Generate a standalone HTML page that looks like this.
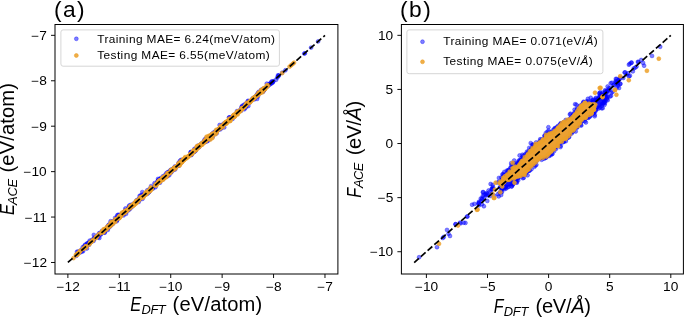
<!DOCTYPE html>
<html><head><meta charset="utf-8"><style>
html,body{margin:0;padding:0;background:#fff;}
svg{display:block;will-change:transform;}
</style></head><body>
<svg width="685" height="317" viewBox="0 0 685 317" xmlns="http://www.w3.org/2000/svg" font-family="Liberation Sans, sans-serif">
<rect width="685" height="317" fill="#fff"/>
<g clip-path="url(#clipA)">
<g fill="#0000ff" fill-opacity="0.5" stroke="#0000ff" stroke-opacity="0.5" stroke-width="0.7"><circle cx="119.6" cy="215.1" r="1.95"/><circle cx="136.8" cy="200.8" r="1.95"/><circle cx="229.1" cy="117.7" r="1.95"/><circle cx="205.8" cy="141.5" r="1.95"/><circle cx="151.1" cy="186.1" r="1.95"/><circle cx="139.9" cy="199.7" r="1.95"/><circle cx="190.9" cy="152.0" r="1.95"/><circle cx="111.9" cy="224.6" r="1.95"/><circle cx="205.2" cy="140.5" r="1.95"/><circle cx="256.8" cy="95.2" r="1.95"/><circle cx="123.7" cy="212.2" r="1.95"/><circle cx="258.2" cy="93.1" r="1.95"/><circle cx="204.1" cy="142.1" r="1.95"/><circle cx="94.4" cy="238.9" r="1.95"/><circle cx="160.8" cy="179.8" r="1.95"/><circle cx="246.2" cy="106.4" r="1.95"/><circle cx="209.9" cy="137.7" r="1.95"/><circle cx="138.7" cy="201.9" r="1.95"/><circle cx="216.9" cy="130.5" r="1.95"/><circle cx="118.3" cy="214.7" r="1.95"/><circle cx="91.7" cy="240.2" r="1.95"/><circle cx="106.7" cy="229.1" r="1.95"/><circle cx="141.3" cy="198.3" r="1.95"/><circle cx="165.3" cy="174.8" r="1.95"/><circle cx="127.2" cy="210.5" r="1.95"/><circle cx="232.6" cy="118.9" r="1.95"/><circle cx="113.1" cy="223.6" r="1.95"/><circle cx="100.9" cy="234.5" r="1.95"/><circle cx="93.6" cy="240.9" r="1.95"/><circle cx="190.9" cy="152.6" r="1.95"/><circle cx="240.1" cy="110.0" r="1.95"/><circle cx="191.5" cy="155.0" r="1.95"/><circle cx="254.9" cy="97.7" r="1.95"/><circle cx="215.2" cy="133.6" r="1.95"/><circle cx="241.2" cy="110.7" r="1.95"/><circle cx="254.4" cy="99.4" r="1.95"/><circle cx="180.9" cy="160.0" r="1.95"/><circle cx="256.0" cy="96.4" r="1.95"/><circle cx="171.0" cy="170.3" r="1.95"/><circle cx="128.6" cy="207.4" r="1.95"/><circle cx="162.7" cy="178.9" r="1.95"/><circle cx="203.7" cy="141.5" r="1.95"/><circle cx="139.5" cy="198.2" r="1.95"/><circle cx="249.5" cy="101.5" r="1.95"/><circle cx="125.4" cy="208.5" r="1.95"/><circle cx="141.2" cy="197.0" r="1.95"/><circle cx="125.7" cy="211.4" r="1.95"/><circle cx="144.2" cy="193.9" r="1.95"/><circle cx="77.0" cy="251.8" r="1.95"/><circle cx="196.7" cy="147.1" r="1.95"/><circle cx="130.2" cy="207.8" r="1.95"/><circle cx="89.1" cy="244.7" r="1.95"/><circle cx="194.4" cy="151.7" r="1.95"/><circle cx="109.9" cy="226.0" r="1.95"/><circle cx="134.4" cy="202.9" r="1.95"/><circle cx="160.7" cy="179.1" r="1.95"/><circle cx="104.8" cy="232.7" r="1.95"/><circle cx="117.8" cy="218.1" r="1.95"/><circle cx="167.1" cy="176.1" r="1.95"/><circle cx="167.5" cy="173.3" r="1.95"/><circle cx="125.0" cy="210.5" r="1.95"/><circle cx="133.1" cy="205.6" r="1.95"/><circle cx="129.6" cy="208.3" r="1.95"/><circle cx="126.0" cy="212.1" r="1.95"/><circle cx="168.7" cy="172.6" r="1.95"/><circle cx="116.7" cy="221.3" r="1.95"/><circle cx="171.2" cy="172.5" r="1.95"/><circle cx="123.3" cy="214.2" r="1.95"/><circle cx="237.0" cy="111.1" r="1.95"/><circle cx="110.6" cy="221.2" r="1.95"/><circle cx="241.5" cy="108.8" r="1.95"/><circle cx="110.2" cy="226.5" r="1.95"/><circle cx="220.1" cy="127.6" r="1.95"/><circle cx="193.3" cy="152.6" r="1.95"/><circle cx="116.2" cy="218.9" r="1.95"/><circle cx="221.9" cy="127.7" r="1.95"/><circle cx="123.9" cy="213.3" r="1.95"/><circle cx="92.4" cy="240.5" r="1.95"/><circle cx="194.7" cy="149.5" r="1.95"/><circle cx="179.1" cy="164.1" r="1.95"/><circle cx="197.8" cy="145.7" r="1.95"/><circle cx="109.5" cy="225.3" r="1.95"/><circle cx="123.6" cy="215.4" r="1.95"/><circle cx="207.5" cy="137.6" r="1.95"/><circle cx="91.5" cy="241.7" r="1.95"/><circle cx="244.0" cy="107.5" r="1.95"/><circle cx="158.3" cy="180.3" r="1.95"/><circle cx="194.7" cy="151.5" r="1.95"/><circle cx="136.1" cy="201.8" r="1.95"/><circle cx="110.4" cy="225.7" r="1.95"/><circle cx="77.9" cy="251.6" r="1.95"/><circle cx="116.3" cy="219.9" r="1.95"/><circle cx="243.0" cy="107.1" r="1.95"/><circle cx="262.8" cy="91.9" r="1.95"/><circle cx="160.8" cy="178.1" r="1.95"/><circle cx="148.7" cy="192.3" r="1.95"/><circle cx="129.0" cy="207.0" r="1.95"/><circle cx="261.5" cy="89.6" r="1.95"/><circle cx="87.2" cy="243.5" r="1.95"/><circle cx="154.5" cy="183.2" r="1.95"/><circle cx="108.4" cy="228.0" r="1.95"/><circle cx="122.1" cy="213.8" r="1.95"/><circle cx="225.8" cy="122.5" r="1.95"/><circle cx="115.1" cy="219.9" r="1.95"/><circle cx="182.0" cy="159.9" r="1.95"/><circle cx="146.5" cy="192.6" r="1.95"/><circle cx="173.4" cy="170.1" r="1.95"/><circle cx="140.0" cy="198.6" r="1.95"/><circle cx="130.3" cy="205.0" r="1.95"/><circle cx="130.1" cy="208.8" r="1.95"/><circle cx="92.4" cy="240.5" r="1.95"/><circle cx="168.5" cy="174.6" r="1.95"/><circle cx="245.6" cy="103.7" r="1.95"/><circle cx="257.9" cy="96.6" r="1.95"/><circle cx="81.3" cy="250.9" r="1.95"/><circle cx="252.2" cy="99.5" r="1.95"/><circle cx="99.3" cy="234.3" r="1.95"/><circle cx="219.6" cy="125.0" r="1.95"/><circle cx="248.1" cy="100.8" r="1.95"/><circle cx="108.2" cy="228.0" r="1.95"/><circle cx="139.6" cy="195.9" r="1.95"/><circle cx="148.6" cy="192.5" r="1.95"/><circle cx="142.6" cy="198.8" r="1.95"/><circle cx="175.1" cy="169.5" r="1.95"/><circle cx="77.7" cy="253.2" r="1.95"/><circle cx="157.2" cy="182.6" r="1.95"/><circle cx="244.5" cy="109.2" r="1.95"/><circle cx="92.8" cy="239.6" r="1.95"/><circle cx="168.9" cy="173.3" r="1.95"/><circle cx="168.4" cy="172.4" r="1.95"/><circle cx="226.3" cy="122.8" r="1.95"/><circle cx="261.2" cy="90.2" r="1.95"/><circle cx="211.8" cy="134.3" r="1.95"/><circle cx="128.6" cy="210.2" r="1.95"/><circle cx="204.7" cy="139.4" r="1.95"/><circle cx="142.7" cy="195.8" r="1.95"/><circle cx="223.5" cy="123.7" r="1.95"/><circle cx="205.7" cy="138.7" r="1.95"/><circle cx="263.7" cy="90.5" r="1.95"/><circle cx="242.4" cy="108.1" r="1.95"/><circle cx="84.9" cy="248.3" r="1.95"/><circle cx="131.7" cy="207.1" r="1.95"/><circle cx="241.6" cy="108.4" r="1.95"/><circle cx="191.4" cy="152.7" r="1.95"/><circle cx="142.1" cy="194.8" r="1.95"/><circle cx="86.7" cy="243.7" r="1.95"/><circle cx="222.5" cy="125.7" r="1.95"/><circle cx="76.3" cy="255.9" r="1.95"/><circle cx="93.8" cy="234.9" r="1.95"/><circle cx="266.8" cy="83.6" r="1.95"/><circle cx="225.0" cy="123.6" r="1.95"/><circle cx="242.7" cy="109.0" r="1.95"/><circle cx="167.6" cy="174.7" r="1.95"/><circle cx="108.4" cy="226.0" r="1.95"/><circle cx="178.5" cy="162.9" r="1.95"/><circle cx="157.8" cy="181.5" r="1.95"/><circle cx="107.3" cy="226.8" r="1.95"/><circle cx="107.8" cy="227.2" r="1.95"/><circle cx="125.6" cy="211.0" r="1.95"/><circle cx="257.1" cy="95.5" r="1.95"/><circle cx="265.5" cy="87.6" r="1.95"/><circle cx="211.1" cy="135.8" r="1.95"/><circle cx="214.8" cy="131.7" r="1.95"/><circle cx="216.6" cy="133.4" r="1.95"/><circle cx="175.3" cy="167.7" r="1.95"/><circle cx="110.1" cy="225.3" r="1.95"/><circle cx="244.5" cy="107.7" r="1.95"/><circle cx="245.0" cy="105.9" r="1.95"/><circle cx="212.2" cy="136.1" r="1.95"/><circle cx="255.2" cy="97.6" r="1.95"/><circle cx="264.2" cy="89.2" r="1.95"/><circle cx="172.7" cy="170.0" r="1.95"/><circle cx="221.5" cy="127.3" r="1.95"/><circle cx="194.4" cy="148.9" r="1.95"/><circle cx="98.1" cy="235.3" r="1.95"/><circle cx="136.7" cy="201.0" r="1.95"/><circle cx="89.0" cy="243.2" r="1.95"/><circle cx="246.3" cy="105.5" r="1.95"/><circle cx="80.2" cy="252.5" r="1.95"/><circle cx="179.2" cy="162.8" r="1.95"/><circle cx="110.1" cy="225.4" r="1.95"/><circle cx="104.2" cy="232.5" r="1.95"/><circle cx="107.8" cy="229.9" r="1.95"/><circle cx="244.4" cy="106.0" r="1.95"/><circle cx="170.9" cy="172.2" r="1.95"/><circle cx="141.5" cy="197.3" r="1.95"/><circle cx="267.8" cy="86.3" r="1.95"/><circle cx="180.8" cy="163.0" r="1.95"/><circle cx="134.2" cy="203.8" r="1.95"/><circle cx="147.2" cy="193.9" r="1.95"/><circle cx="209.6" cy="137.0" r="1.95"/><circle cx="99.1" cy="233.3" r="1.95"/><circle cx="221.6" cy="125.5" r="1.95"/><circle cx="245.7" cy="107.5" r="1.95"/><circle cx="167.2" cy="176.3" r="1.95"/><circle cx="160.0" cy="182.7" r="1.95"/><circle cx="103.5" cy="231.1" r="1.95"/><circle cx="157.2" cy="182.2" r="1.95"/><circle cx="222.8" cy="124.9" r="1.95"/><circle cx="155.5" cy="187.2" r="1.95"/><circle cx="195.0" cy="149.8" r="1.95"/><circle cx="84.4" cy="246.5" r="1.95"/><circle cx="118.2" cy="218.4" r="1.95"/><circle cx="115.1" cy="217.9" r="1.95"/><circle cx="264.4" cy="89.5" r="1.95"/><circle cx="84.6" cy="245.9" r="1.95"/><circle cx="117.3" cy="215.3" r="1.95"/><circle cx="82.0" cy="251.5" r="1.95"/><circle cx="198.8" cy="147.0" r="1.95"/><circle cx="201.4" cy="143.5" r="1.95"/><circle cx="142.3" cy="192.1" r="1.95"/><circle cx="83.0" cy="251.3" r="1.95"/><circle cx="159.5" cy="180.5" r="1.95"/><circle cx="108.9" cy="225.6" r="1.95"/><circle cx="157.9" cy="183.2" r="1.95"/><circle cx="147.6" cy="192.9" r="1.95"/><circle cx="118.4" cy="218.3" r="1.95"/><circle cx="237.6" cy="112.7" r="1.95"/><circle cx="209.0" cy="139.3" r="1.95"/><circle cx="166.4" cy="173.1" r="1.95"/><circle cx="152.7" cy="188.8" r="1.95"/><circle cx="96.9" cy="237.1" r="1.95"/><circle cx="191.8" cy="153.6" r="1.95"/><circle cx="172.8" cy="170.1" r="1.95"/><circle cx="249.8" cy="101.3" r="1.95"/><circle cx="262.0" cy="91.7" r="1.95"/><circle cx="231.4" cy="118.0" r="1.95"/><circle cx="242.4" cy="105.7" r="1.95"/><circle cx="171.2" cy="169.5" r="1.95"/><circle cx="147.8" cy="192.0" r="1.95"/><circle cx="168.0" cy="172.6" r="1.95"/><circle cx="178.0" cy="166.0" r="1.95"/><circle cx="233.0" cy="116.0" r="1.95"/><circle cx="105.0" cy="231.4" r="1.95"/><circle cx="191.3" cy="154.7" r="1.95"/><circle cx="250.0" cy="102.5" r="1.95"/><circle cx="118.7" cy="215.6" r="1.95"/><circle cx="131.3" cy="205.9" r="1.95"/><circle cx="237.7" cy="111.4" r="1.95"/><circle cx="201.2" cy="144.3" r="1.95"/><circle cx="261.4" cy="90.8" r="1.95"/><circle cx="199.3" cy="145.6" r="1.95"/><circle cx="258.3" cy="93.0" r="1.95"/><circle cx="234.8" cy="114.6" r="1.95"/><circle cx="205.5" cy="141.8" r="1.95"/><circle cx="112.5" cy="223.9" r="1.95"/><circle cx="117.0" cy="217.2" r="1.95"/><circle cx="241.7" cy="106.7" r="1.95"/><circle cx="140.1" cy="197.6" r="1.95"/><circle cx="207.8" cy="140.8" r="1.95"/><circle cx="159.6" cy="179.0" r="1.95"/><circle cx="164.2" cy="176.7" r="1.95"/><circle cx="78.0" cy="253.4" r="1.95"/><circle cx="233.9" cy="115.5" r="1.95"/><circle cx="135.8" cy="202.7" r="1.95"/><circle cx="140.7" cy="195.5" r="1.95"/><circle cx="89.7" cy="240.6" r="1.95"/><circle cx="195.9" cy="150.5" r="1.95"/><circle cx="225.5" cy="123.2" r="1.95"/><circle cx="174.1" cy="167.9" r="1.95"/><circle cx="167.7" cy="172.3" r="1.95"/><circle cx="224.2" cy="127.4" r="1.95"/><circle cx="94.6" cy="237.4" r="1.95"/><circle cx="179.9" cy="161.0" r="1.95"/><circle cx="219.8" cy="128.5" r="1.95"/><circle cx="146.3" cy="193.0" r="1.95"/><circle cx="244.2" cy="104.7" r="1.95"/><circle cx="163.7" cy="177.1" r="1.95"/><circle cx="98.3" cy="237.2" r="1.95"/><circle cx="263.6" cy="90.9" r="1.95"/><circle cx="163.5" cy="179.1" r="1.95"/><circle cx="220.5" cy="129.3" r="1.95"/><circle cx="91.0" cy="241.8" r="1.95"/><circle cx="231.3" cy="118.6" r="1.95"/><circle cx="105.2" cy="229.2" r="1.95"/><circle cx="100.0" cy="232.9" r="1.95"/><circle cx="129.1" cy="205.7" r="1.95"/><circle cx="157.5" cy="182.7" r="1.95"/><circle cx="169.2" cy="175.3" r="1.95"/><circle cx="158.2" cy="180.5" r="1.95"/><circle cx="82.6" cy="249.4" r="1.95"/><circle cx="190.6" cy="152.2" r="1.95"/><circle cx="218.5" cy="129.8" r="1.95"/><circle cx="263.9" cy="88.6" r="1.95"/><circle cx="182.4" cy="161.2" r="1.95"/><circle cx="254.9" cy="97.0" r="1.95"/><circle cx="258.8" cy="91.8" r="1.95"/><circle cx="116.8" cy="219.9" r="1.95"/><circle cx="88.7" cy="243.6" r="1.95"/><circle cx="108.6" cy="226.0" r="1.95"/><circle cx="218.9" cy="129.3" r="1.95"/><circle cx="126.1" cy="213.8" r="1.95"/><circle cx="97.5" cy="235.6" r="1.95"/><circle cx="257.1" cy="98.9" r="1.95"/><circle cx="207.2" cy="141.2" r="1.95"/><circle cx="260.0" cy="93.2" r="1.95"/><circle cx="139.3" cy="198.6" r="1.95"/><circle cx="112.9" cy="221.3" r="1.95"/><circle cx="102.3" cy="230.7" r="1.95"/><circle cx="257.1" cy="94.2" r="1.95"/><circle cx="107.5" cy="227.7" r="1.95"/><circle cx="230.1" cy="117.3" r="1.95"/><circle cx="116.6" cy="219.5" r="1.95"/><circle cx="241.7" cy="107.2" r="1.95"/><circle cx="86.9" cy="248.5" r="1.95"/><circle cx="149.2" cy="191.7" r="1.95"/><circle cx="153.2" cy="187.7" r="1.95"/><circle cx="263.4" cy="89.5" r="1.95"/><circle cx="248.4" cy="106.0" r="1.95"/><circle cx="149.8" cy="188.7" r="1.95"/><circle cx="157.5" cy="181.7" r="1.95"/><circle cx="213.3" cy="132.7" r="1.95"/><circle cx="198.9" cy="147.2" r="1.95"/><circle cx="247.7" cy="101.4" r="1.95"/><circle cx="207.9" cy="139.2" r="1.95"/><circle cx="174.9" cy="166.4" r="1.95"/><circle cx="248.9" cy="102.4" r="1.95"/><circle cx="139.6" cy="198.9" r="1.95"/><circle cx="146.5" cy="192.9" r="1.95"/><circle cx="143.5" cy="195.5" r="1.95"/><circle cx="170.0" cy="170.5" r="1.95"/><circle cx="82.7" cy="247.2" r="1.95"/><circle cx="163.0" cy="176.3" r="1.95"/><circle cx="136.8" cy="200.1" r="1.95"/><circle cx="122.7" cy="212.9" r="1.95"/><circle cx="123.5" cy="212.5" r="1.95"/><circle cx="229.1" cy="117.4" r="1.95"/><circle cx="150.0" cy="190.3" r="1.95"/><circle cx="264.3" cy="89.6" r="1.95"/><circle cx="155.2" cy="185.0" r="1.95"/><circle cx="210.0" cy="139.0" r="1.95"/><circle cx="134.6" cy="203.6" r="1.95"/><circle cx="234.7" cy="114.9" r="1.95"/><circle cx="116.9" cy="220.3" r="1.95"/><circle cx="128.8" cy="209.2" r="1.95"/><circle cx="132.2" cy="204.5" r="1.95"/><circle cx="100.8" cy="233.4" r="1.95"/><circle cx="220.1" cy="127.6" r="1.95"/><circle cx="158.9" cy="180.5" r="1.95"/><circle cx="100.2" cy="234.5" r="1.95"/><circle cx="179.0" cy="165.7" r="1.95"/><circle cx="169.8" cy="172.3" r="1.95"/><circle cx="173.0" cy="168.8" r="1.95"/><circle cx="212.8" cy="136.7" r="1.95"/><circle cx="88.8" cy="242.9" r="1.95"/><circle cx="170.5" cy="172.0" r="1.95"/><circle cx="85.9" cy="246.9" r="1.95"/><circle cx="263.4" cy="90.7" r="1.95"/><circle cx="202.7" cy="143.4" r="1.95"/><circle cx="108.5" cy="225.0" r="1.95"/><circle cx="252.6" cy="98.4" r="1.95"/><circle cx="109.6" cy="224.3" r="1.95"/><circle cx="144.1" cy="195.4" r="1.95"/><circle cx="85.1" cy="244.8" r="1.95"/><circle cx="147.3" cy="190.3" r="1.95"/><circle cx="216.4" cy="131.0" r="1.95"/><circle cx="99.4" cy="238.0" r="1.95"/><circle cx="225.2" cy="123.2" r="1.95"/><circle cx="158.0" cy="178.9" r="1.95"/><circle cx="230.0" cy="119.0" r="1.95"/><circle cx="272.1" cy="82.6" r="1.95"/><circle cx="270.8" cy="83.9" r="1.95"/><circle cx="273.4" cy="81.2" r="1.95"/><circle cx="269.3" cy="84.8" r="1.95"/><circle cx="273.0" cy="81.8" r="1.95"/><circle cx="269.6" cy="84.0" r="1.95"/><circle cx="271.4" cy="82.0" r="1.95"/><circle cx="278.9" cy="75.4" r="1.95"/><circle cx="269.4" cy="83.9" r="1.95"/><circle cx="271.7" cy="81.4" r="1.95"/><circle cx="272.6" cy="82.7" r="1.95"/><circle cx="277.3" cy="77.6" r="1.95"/><circle cx="269.9" cy="83.9" r="1.95"/><circle cx="278.3" cy="76.2" r="1.95"/><circle cx="276.1" cy="79.8" r="1.95"/><circle cx="278.0" cy="75.3" r="1.95"/><circle cx="80.4" cy="250.5" r="1.95"/><circle cx="88.6" cy="242.8" r="1.95"/><circle cx="93.7" cy="238.8" r="1.95"/><circle cx="101.9" cy="231.5" r="1.95"/><circle cx="285.4" cy="70.3" r="1.95"/><circle cx="304.3" cy="53.6" r="1.95"/><circle cx="304.9" cy="53.3" r="1.95"/><circle cx="311.1" cy="47.6" r="1.95"/><circle cx="318.1" cy="41.4" r="1.95"/><circle cx="282.2" cy="72.7" r="1.95"/><circle cx="203.9" cy="141.4" r="1.95"/><circle cx="205.5" cy="140.6" r="1.95"/></g>
<g fill="#eca028" fill-opacity="0.85" stroke="#eca028" stroke-opacity="0.85" stroke-width="0.7"><circle cx="76.7" cy="255.1" r="1.95"/><circle cx="73.5" cy="258.1" r="1.95"/><circle cx="80.1" cy="250.9" r="1.95"/><circle cx="77.6" cy="254.6" r="1.95"/><circle cx="78.5" cy="252.8" r="1.95"/><circle cx="78.2" cy="253.3" r="1.95"/><circle cx="80.3" cy="251.2" r="1.95"/><circle cx="77.4" cy="253.7" r="1.95"/><circle cx="75.9" cy="254.8" r="1.95"/><circle cx="78.8" cy="252.8" r="1.95"/><circle cx="83.3" cy="248.8" r="1.95"/><circle cx="85.5" cy="246.5" r="1.95"/><circle cx="83.8" cy="248.5" r="1.95"/><circle cx="86.0" cy="246.3" r="1.95"/><circle cx="84.1" cy="248.3" r="1.95"/><circle cx="86.1" cy="247.6" r="1.95"/><circle cx="90.0" cy="242.7" r="1.95"/><circle cx="90.5" cy="242.6" r="1.95"/><circle cx="92.7" cy="240.1" r="1.95"/><circle cx="89.2" cy="244.6" r="1.95"/><circle cx="92.7" cy="240.7" r="1.95"/><circle cx="91.5" cy="241.7" r="1.95"/><circle cx="97.0" cy="236.8" r="1.95"/><circle cx="95.8" cy="237.9" r="1.95"/><circle cx="95.6" cy="238.0" r="1.95"/><circle cx="96.6" cy="236.5" r="1.95"/><circle cx="98.8" cy="234.3" r="1.95"/><circle cx="96.5" cy="236.9" r="1.95"/><circle cx="209.0" cy="138.6" r="1.95"/><circle cx="156.5" cy="183.7" r="1.95"/><circle cx="125.5" cy="212.1" r="1.95"/><circle cx="206.2" cy="139.8" r="1.95"/><circle cx="126.3" cy="211.1" r="1.95"/><circle cx="250.0" cy="101.9" r="1.95"/><circle cx="125.3" cy="211.1" r="1.95"/><circle cx="212.7" cy="133.9" r="1.95"/><circle cx="109.6" cy="226.3" r="1.95"/><circle cx="216.0" cy="131.7" r="1.95"/><circle cx="133.7" cy="204.3" r="1.95"/><circle cx="210.6" cy="135.9" r="1.95"/><circle cx="241.6" cy="109.5" r="1.95"/><circle cx="104.8" cy="230.1" r="1.95"/><circle cx="158.7" cy="182.3" r="1.95"/><circle cx="122.4" cy="213.8" r="1.95"/><circle cx="145.8" cy="193.0" r="1.95"/><circle cx="159.2" cy="182.1" r="1.95"/><circle cx="263.6" cy="88.3" r="1.95"/><circle cx="161.7" cy="179.3" r="1.95"/><circle cx="216.5" cy="131.7" r="1.95"/><circle cx="146.0" cy="194.5" r="1.95"/><circle cx="142.1" cy="197.2" r="1.95"/><circle cx="166.5" cy="177.0" r="1.95"/><circle cx="203.8" cy="142.2" r="1.95"/><circle cx="199.5" cy="145.7" r="1.95"/><circle cx="167.7" cy="173.4" r="1.95"/><circle cx="131.1" cy="206.3" r="1.95"/><circle cx="240.4" cy="111.2" r="1.95"/><circle cx="194.3" cy="151.0" r="1.95"/><circle cx="200.2" cy="145.0" r="1.95"/><circle cx="222.9" cy="126.9" r="1.95"/><circle cx="136.0" cy="202.8" r="1.95"/><circle cx="260.3" cy="92.0" r="1.95"/><circle cx="233.4" cy="116.1" r="1.95"/><circle cx="234.1" cy="116.9" r="1.95"/><circle cx="226.1" cy="123.0" r="1.95"/><circle cx="134.9" cy="203.2" r="1.95"/><circle cx="210.0" cy="135.5" r="1.95"/><circle cx="141.4" cy="197.8" r="1.95"/><circle cx="189.4" cy="155.7" r="1.95"/><circle cx="250.2" cy="101.2" r="1.95"/><circle cx="190.2" cy="154.2" r="1.95"/><circle cx="111.6" cy="223.4" r="1.95"/><circle cx="225.6" cy="122.1" r="1.95"/><circle cx="264.3" cy="89.0" r="1.95"/><circle cx="231.7" cy="118.6" r="1.95"/><circle cx="212.2" cy="135.0" r="1.95"/><circle cx="113.2" cy="222.4" r="1.95"/><circle cx="148.4" cy="190.6" r="1.95"/><circle cx="108.9" cy="225.7" r="1.95"/><circle cx="169.1" cy="173.5" r="1.95"/><circle cx="207.4" cy="138.6" r="1.95"/><circle cx="238.4" cy="111.2" r="1.95"/><circle cx="164.3" cy="177.4" r="1.95"/><circle cx="163.1" cy="177.7" r="1.95"/><circle cx="133.5" cy="204.4" r="1.95"/><circle cx="109.1" cy="225.9" r="1.95"/><circle cx="216.5" cy="131.2" r="1.95"/><circle cx="173.9" cy="168.2" r="1.95"/><circle cx="197.4" cy="146.1" r="1.95"/><circle cx="218.2" cy="129.5" r="1.95"/><circle cx="167.7" cy="175.0" r="1.95"/><circle cx="243.3" cy="107.6" r="1.95"/><circle cx="181.3" cy="162.7" r="1.95"/><circle cx="191.1" cy="153.4" r="1.95"/><circle cx="237.5" cy="112.7" r="1.95"/><circle cx="150.8" cy="187.5" r="1.95"/><circle cx="223.4" cy="124.5" r="1.95"/><circle cx="146.1" cy="192.1" r="1.95"/><circle cx="228.4" cy="121.1" r="1.95"/><circle cx="203.5" cy="142.8" r="1.95"/><circle cx="261.2" cy="90.3" r="1.95"/><circle cx="180.1" cy="164.4" r="1.95"/><circle cx="222.7" cy="125.6" r="1.95"/><circle cx="111.3" cy="225.1" r="1.95"/><circle cx="220.7" cy="126.3" r="1.95"/><circle cx="191.4" cy="154.3" r="1.95"/><circle cx="139.3" cy="199.6" r="1.95"/><circle cx="235.2" cy="114.8" r="1.95"/><circle cx="133.6" cy="205.5" r="1.95"/><circle cx="185.2" cy="157.1" r="1.95"/><circle cx="208.8" cy="138.1" r="1.95"/><circle cx="115.4" cy="219.3" r="1.95"/><circle cx="195.7" cy="150.0" r="1.95"/><circle cx="119.7" cy="217.7" r="1.95"/><circle cx="253.7" cy="98.1" r="1.95"/><circle cx="138.2" cy="200.2" r="1.95"/><circle cx="196.9" cy="146.4" r="1.95"/><circle cx="258.1" cy="95.1" r="1.95"/><circle cx="175.4" cy="168.6" r="1.95"/><circle cx="102.4" cy="232.5" r="1.95"/><circle cx="164.6" cy="176.8" r="1.95"/><circle cx="200.2" cy="145.1" r="1.95"/><circle cx="191.4" cy="153.8" r="1.95"/><circle cx="262.2" cy="91.0" r="1.95"/><circle cx="116.4" cy="219.3" r="1.95"/><circle cx="119.8" cy="215.9" r="1.95"/><circle cx="164.4" cy="177.6" r="1.95"/><circle cx="173.8" cy="168.8" r="1.95"/><circle cx="237.6" cy="114.4" r="1.95"/><circle cx="129.8" cy="208.4" r="1.95"/><circle cx="104.3" cy="230.0" r="1.95"/><circle cx="218.2" cy="129.6" r="1.95"/><circle cx="175.5" cy="167.5" r="1.95"/><circle cx="107.4" cy="226.5" r="1.95"/><circle cx="256.7" cy="95.8" r="1.95"/><circle cx="108.1" cy="227.7" r="1.95"/><circle cx="180.7" cy="162.6" r="1.95"/><circle cx="161.1" cy="179.9" r="1.95"/><circle cx="260.8" cy="92.8" r="1.95"/><circle cx="171.4" cy="170.3" r="1.95"/><circle cx="135.9" cy="201.2" r="1.95"/><circle cx="245.1" cy="106.3" r="1.95"/><circle cx="188.2" cy="156.8" r="1.95"/><circle cx="127.3" cy="210.0" r="1.95"/><circle cx="123.4" cy="212.6" r="1.95"/><circle cx="201.4" cy="144.9" r="1.95"/><circle cx="110.7" cy="225.1" r="1.95"/><circle cx="158.7" cy="182.7" r="1.95"/><circle cx="215.1" cy="132.3" r="1.95"/><circle cx="220.7" cy="127.3" r="1.95"/><circle cx="211.1" cy="136.1" r="1.95"/><circle cx="124.1" cy="212.0" r="1.95"/><circle cx="103.7" cy="229.3" r="1.95"/><circle cx="209.4" cy="137.8" r="1.95"/><circle cx="164.3" cy="176.6" r="1.95"/><circle cx="193.2" cy="151.6" r="1.95"/><circle cx="121.9" cy="212.7" r="1.95"/><circle cx="124.2" cy="213.3" r="1.95"/><circle cx="128.2" cy="209.4" r="1.95"/><circle cx="220.2" cy="127.8" r="1.95"/><circle cx="135.1" cy="204.1" r="1.95"/><circle cx="136.1" cy="202.3" r="1.95"/><circle cx="237.7" cy="111.9" r="1.95"/><circle cx="163.2" cy="179.2" r="1.95"/><circle cx="236.6" cy="113.4" r="1.95"/><circle cx="184.8" cy="158.0" r="1.95"/><circle cx="197.3" cy="148.5" r="1.95"/><circle cx="160.5" cy="181.2" r="1.95"/><circle cx="179.5" cy="165.6" r="1.95"/><circle cx="168.3" cy="173.8" r="1.95"/><circle cx="192.0" cy="153.9" r="1.95"/><circle cx="250.4" cy="100.8" r="1.95"/><circle cx="204.6" cy="140.5" r="1.95"/><circle cx="198.1" cy="147.0" r="1.95"/><circle cx="206.3" cy="140.7" r="1.95"/><circle cx="103.3" cy="230.7" r="1.95"/><circle cx="139.2" cy="199.7" r="1.95"/><circle cx="170.1" cy="172.9" r="1.95"/><circle cx="264.5" cy="89.0" r="1.95"/><circle cx="225.1" cy="123.4" r="1.95"/><circle cx="253.7" cy="98.6" r="1.95"/><circle cx="194.1" cy="150.6" r="1.95"/><circle cx="246.5" cy="103.1" r="1.95"/><circle cx="178.7" cy="164.2" r="1.95"/><circle cx="252.8" cy="98.6" r="1.95"/><circle cx="267.2" cy="86.8" r="1.95"/><circle cx="212.2" cy="134.0" r="1.95"/><circle cx="181.3" cy="162.0" r="1.95"/><circle cx="220.0" cy="127.4" r="1.95"/><circle cx="260.3" cy="93.0" r="1.95"/><circle cx="178.4" cy="164.7" r="1.95"/><circle cx="216.5" cy="132.8" r="1.95"/><circle cx="108.5" cy="226.9" r="1.95"/><circle cx="198.3" cy="147.8" r="1.95"/><circle cx="151.6" cy="189.2" r="1.95"/><circle cx="229.2" cy="118.7" r="1.95"/><circle cx="149.6" cy="191.4" r="1.95"/><circle cx="201.6" cy="144.5" r="1.95"/><circle cx="184.2" cy="159.8" r="1.95"/><circle cx="268.1" cy="85.2" r="1.95"/><circle cx="246.9" cy="103.6" r="1.95"/><circle cx="115.3" cy="221.7" r="1.95"/><circle cx="253.9" cy="98.5" r="1.95"/><circle cx="229.2" cy="120.4" r="1.95"/><circle cx="119.2" cy="216.6" r="1.95"/><circle cx="226.1" cy="122.1" r="1.95"/><circle cx="255.1" cy="97.4" r="1.95"/><circle cx="150.9" cy="189.5" r="1.95"/><circle cx="193.8" cy="151.9" r="1.95"/><circle cx="126.2" cy="210.7" r="1.95"/><circle cx="162.4" cy="177.8" r="1.95"/><circle cx="183.3" cy="160.2" r="1.95"/><circle cx="173.1" cy="170.0" r="1.95"/><circle cx="132.3" cy="206.2" r="1.95"/><circle cx="265.5" cy="88.4" r="1.95"/><circle cx="103.6" cy="232.0" r="1.95"/><circle cx="130.1" cy="206.3" r="1.95"/><circle cx="150.7" cy="189.2" r="1.95"/><circle cx="142.3" cy="197.0" r="1.95"/><circle cx="110.6" cy="223.2" r="1.95"/><circle cx="168.2" cy="173.7" r="1.95"/><circle cx="140.8" cy="197.1" r="1.95"/><circle cx="156.4" cy="184.1" r="1.95"/><circle cx="118.6" cy="217.0" r="1.95"/><circle cx="245.8" cy="105.3" r="1.95"/><circle cx="232.6" cy="117.2" r="1.95"/><circle cx="103.0" cy="231.2" r="1.95"/><circle cx="105.8" cy="228.5" r="1.95"/><circle cx="212.4" cy="134.0" r="1.95"/><circle cx="145.9" cy="193.4" r="1.95"/><circle cx="160.2" cy="181.1" r="1.95"/><circle cx="182.0" cy="161.9" r="1.95"/><circle cx="259.3" cy="93.2" r="1.95"/><circle cx="120.7" cy="216.1" r="1.95"/><circle cx="160.9" cy="180.6" r="1.95"/><circle cx="228.6" cy="120.1" r="1.95"/><circle cx="199.4" cy="145.8" r="1.95"/><circle cx="162.0" cy="179.0" r="1.95"/><circle cx="186.3" cy="158.4" r="1.95"/><circle cx="106.5" cy="229.4" r="1.95"/><circle cx="159.1" cy="181.7" r="1.95"/><circle cx="217.1" cy="130.6" r="1.95"/><circle cx="103.4" cy="231.4" r="1.95"/><circle cx="182.4" cy="161.2" r="1.95"/><circle cx="129.7" cy="207.3" r="1.95"/><circle cx="132.2" cy="205.8" r="1.95"/><circle cx="151.2" cy="188.6" r="1.95"/><circle cx="136.6" cy="202.4" r="1.95"/><circle cx="119.5" cy="217.1" r="1.95"/><circle cx="148.3" cy="192.0" r="1.95"/><circle cx="228.9" cy="121.2" r="1.95"/><circle cx="198.5" cy="146.8" r="1.95"/><circle cx="230.4" cy="120.8" r="1.95"/><circle cx="241.3" cy="109.3" r="1.95"/><circle cx="220.8" cy="126.9" r="1.95"/><circle cx="134.8" cy="203.0" r="1.95"/><circle cx="164.7" cy="178.0" r="1.95"/><circle cx="150.6" cy="189.2" r="1.95"/><circle cx="226.6" cy="123.5" r="1.95"/><circle cx="204.2" cy="142.7" r="1.95"/><circle cx="206.4" cy="139.1" r="1.95"/><circle cx="246.5" cy="104.6" r="1.95"/><circle cx="140.4" cy="197.6" r="1.95"/><circle cx="146.0" cy="194.2" r="1.95"/><circle cx="210.6" cy="137.8" r="1.95"/><circle cx="243.2" cy="108.1" r="1.95"/><circle cx="102.4" cy="231.1" r="1.95"/><circle cx="253.7" cy="97.6" r="1.95"/><circle cx="145.4" cy="193.2" r="1.95"/><circle cx="155.0" cy="185.6" r="1.95"/><circle cx="208.3" cy="138.5" r="1.95"/><circle cx="254.4" cy="97.9" r="1.95"/><circle cx="111.6" cy="221.9" r="1.95"/><circle cx="179.2" cy="164.1" r="1.95"/><circle cx="236.7" cy="112.1" r="1.95"/><circle cx="183.9" cy="160.1" r="1.95"/><circle cx="201.5" cy="143.5" r="1.95"/><circle cx="220.6" cy="128.3" r="1.95"/><circle cx="206.0" cy="140.8" r="1.95"/><circle cx="102.9" cy="231.3" r="1.95"/><circle cx="249.9" cy="102.1" r="1.95"/><circle cx="141.7" cy="197.6" r="1.95"/><circle cx="172.4" cy="170.2" r="1.95"/><circle cx="242.3" cy="108.7" r="1.95"/><circle cx="159.3" cy="180.6" r="1.95"/><circle cx="173.9" cy="168.0" r="1.95"/><circle cx="202.4" cy="144.6" r="1.95"/><circle cx="159.4" cy="180.5" r="1.95"/><circle cx="147.2" cy="192.4" r="1.95"/><circle cx="188.1" cy="156.3" r="1.95"/><circle cx="130.5" cy="207.2" r="1.95"/><circle cx="166.9" cy="174.4" r="1.95"/><circle cx="136.3" cy="201.6" r="1.95"/><circle cx="121.3" cy="215.7" r="1.95"/><circle cx="263.6" cy="89.6" r="1.95"/><circle cx="238.9" cy="112.3" r="1.95"/><circle cx="261.5" cy="90.1" r="1.95"/><circle cx="170.6" cy="172.3" r="1.95"/><circle cx="144.3" cy="195.6" r="1.95"/><circle cx="251.7" cy="100.6" r="1.95"/><circle cx="143.4" cy="195.7" r="1.95"/><circle cx="172.6" cy="169.4" r="1.95"/><circle cx="204.8" cy="141.7" r="1.95"/><circle cx="136.1" cy="202.2" r="1.95"/><circle cx="182.1" cy="161.8" r="1.95"/><circle cx="233.4" cy="115.4" r="1.95"/><circle cx="201.3" cy="144.5" r="1.95"/><circle cx="156.5" cy="185.3" r="1.95"/><circle cx="124.5" cy="211.4" r="1.95"/><circle cx="175.7" cy="167.0" r="1.95"/><circle cx="178.7" cy="163.2" r="1.95"/><circle cx="147.1" cy="192.9" r="1.95"/><circle cx="165.9" cy="176.2" r="1.95"/><circle cx="164.3" cy="177.4" r="1.95"/><circle cx="119.0" cy="218.3" r="1.95"/><circle cx="252.5" cy="99.6" r="1.95"/><circle cx="234.3" cy="114.6" r="1.95"/><circle cx="202.2" cy="143.3" r="1.95"/><circle cx="143.5" cy="197.3" r="1.95"/><circle cx="193.8" cy="150.4" r="1.95"/><circle cx="162.0" cy="179.0" r="1.95"/><circle cx="136.1" cy="201.6" r="1.95"/><circle cx="147.6" cy="192.0" r="1.95"/><circle cx="197.6" cy="147.8" r="1.95"/><circle cx="150.8" cy="189.1" r="1.95"/><circle cx="207.9" cy="138.7" r="1.95"/><circle cx="244.9" cy="106.8" r="1.95"/><circle cx="224.7" cy="123.2" r="1.95"/><circle cx="249.2" cy="102.1" r="1.95"/><circle cx="248.8" cy="102.4" r="1.95"/><circle cx="226.9" cy="121.7" r="1.95"/><circle cx="182.2" cy="161.7" r="1.95"/><circle cx="137.2" cy="201.3" r="1.95"/><circle cx="109.7" cy="226.4" r="1.95"/><circle cx="165.1" cy="176.4" r="1.95"/><circle cx="120.2" cy="216.0" r="1.95"/><circle cx="120.1" cy="216.5" r="1.95"/><circle cx="150.5" cy="190.6" r="1.95"/><circle cx="157.9" cy="182.0" r="1.95"/><circle cx="264.6" cy="88.8" r="1.95"/><circle cx="124.1" cy="212.8" r="1.95"/><circle cx="205.0" cy="141.5" r="1.95"/><circle cx="105.6" cy="229.5" r="1.95"/><circle cx="242.3" cy="108.7" r="1.95"/><circle cx="118.9" cy="218.2" r="1.95"/><circle cx="165.8" cy="176.3" r="1.95"/><circle cx="183.1" cy="159.3" r="1.95"/><circle cx="233.5" cy="115.3" r="1.95"/><circle cx="180.9" cy="161.2" r="1.95"/><circle cx="146.8" cy="193.2" r="1.95"/><circle cx="234.4" cy="116.6" r="1.95"/><circle cx="134.2" cy="204.8" r="1.95"/><circle cx="262.7" cy="92.1" r="1.95"/><circle cx="209.4" cy="136.7" r="1.95"/><circle cx="104.6" cy="229.2" r="1.95"/><circle cx="261.5" cy="91.3" r="1.95"/><circle cx="245.5" cy="105.3" r="1.95"/><circle cx="134.6" cy="203.3" r="1.95"/><circle cx="265.3" cy="88.1" r="1.95"/><circle cx="171.1" cy="170.8" r="1.95"/><circle cx="264.8" cy="89.2" r="1.95"/><circle cx="187.1" cy="157.4" r="1.95"/><circle cx="168.8" cy="173.4" r="1.95"/><circle cx="162.8" cy="179.8" r="1.95"/><circle cx="225.3" cy="124.0" r="1.95"/><circle cx="229.8" cy="119.1" r="1.95"/><circle cx="238.1" cy="111.9" r="1.95"/><circle cx="230.0" cy="120.9" r="1.95"/><circle cx="125.2" cy="211.2" r="1.95"/><circle cx="109.2" cy="225.7" r="1.95"/><circle cx="151.1" cy="188.4" r="1.95"/><circle cx="156.0" cy="184.6" r="1.95"/><circle cx="165.7" cy="175.7" r="1.95"/><circle cx="196.2" cy="150.0" r="1.95"/><circle cx="146.5" cy="193.2" r="1.95"/><circle cx="264.4" cy="89.5" r="1.95"/><circle cx="163.9" cy="177.9" r="1.95"/><circle cx="136.8" cy="200.8" r="1.95"/><circle cx="167.6" cy="173.2" r="1.95"/><circle cx="175.8" cy="167.1" r="1.95"/><circle cx="192.7" cy="152.5" r="1.95"/><circle cx="132.0" cy="205.2" r="1.95"/><circle cx="175.6" cy="167.0" r="1.95"/><circle cx="258.4" cy="92.8" r="1.95"/><circle cx="122.6" cy="213.7" r="1.95"/><circle cx="235.0" cy="116.4" r="1.95"/><circle cx="141.4" cy="197.5" r="1.95"/><circle cx="155.7" cy="185.1" r="1.95"/><circle cx="250.1" cy="102.0" r="1.95"/><circle cx="178.1" cy="165.0" r="1.95"/><circle cx="256.2" cy="96.0" r="1.95"/><circle cx="102.8" cy="231.9" r="1.95"/><circle cx="193.3" cy="150.6" r="1.95"/><circle cx="113.0" cy="222.3" r="1.95"/><circle cx="185.4" cy="158.4" r="1.95"/><circle cx="227.7" cy="121.2" r="1.95"/><circle cx="124.5" cy="211.6" r="1.95"/><circle cx="137.6" cy="201.6" r="1.95"/><circle cx="241.7" cy="108.1" r="1.95"/><circle cx="226.8" cy="122.3" r="1.95"/><circle cx="196.4" cy="147.9" r="1.95"/><circle cx="199.4" cy="145.3" r="1.95"/><circle cx="133.5" cy="204.2" r="1.95"/><circle cx="187.2" cy="157.4" r="1.95"/><circle cx="251.5" cy="100.1" r="1.95"/><circle cx="173.2" cy="169.2" r="1.95"/><circle cx="112.4" cy="224.1" r="1.95"/><circle cx="258.5" cy="94.2" r="1.95"/><circle cx="231.7" cy="118.2" r="1.95"/><circle cx="113.0" cy="221.7" r="1.95"/><circle cx="170.8" cy="170.3" r="1.95"/><circle cx="126.1" cy="211.5" r="1.95"/><circle cx="249.0" cy="102.8" r="1.95"/><circle cx="210.5" cy="137.4" r="1.95"/><circle cx="256.7" cy="95.5" r="1.95"/><circle cx="179.4" cy="163.4" r="1.95"/><circle cx="266.8" cy="85.5" r="1.95"/><circle cx="113.3" cy="223.2" r="1.95"/><circle cx="139.6" cy="198.4" r="1.95"/><circle cx="236.3" cy="113.8" r="1.95"/><circle cx="199.8" cy="146.4" r="1.95"/><circle cx="255.2" cy="97.2" r="1.95"/><circle cx="163.2" cy="178.7" r="1.95"/><circle cx="100.9" cy="233.0" r="1.95"/><circle cx="179.2" cy="164.1" r="1.95"/><circle cx="123.7" cy="212.3" r="1.95"/><circle cx="127.0" cy="210.6" r="1.95"/><circle cx="136.5" cy="203.1" r="1.95"/><circle cx="282.2" cy="73.1" r="1.95"/><circle cx="289.6" cy="66.6" r="1.95"/><circle cx="291.2" cy="65.2" r="1.95"/><circle cx="292.7" cy="63.9" r="1.95"/><circle cx="294.0" cy="62.7" r="1.95"/><circle cx="209.0" cy="137.8" r="1.95"/><circle cx="211.2" cy="135.8" r="1.95"/><circle cx="207.4" cy="139.3" r="1.95"/><circle cx="210.3" cy="139.6" r="1.95"/><circle cx="212.4" cy="138.0" r="1.95"/><circle cx="208.6" cy="136.0" r="1.95"/><circle cx="206.5" cy="136.8" r="1.95"/><circle cx="213.0" cy="135.0" r="1.95"/><circle cx="216.3" cy="129.8" r="1.95"/><circle cx="215.4" cy="134.3" r="1.95"/></g>
</g>
<g clip-path="url(#clipB)">
<path d="M500.1 178.3L504.2 174.6L508.0 170.6L511.1 167.6L513.4 164.6L517.8 160.6L521.6 156.7L524.7 154.2L528.7 150.6L532.0 147.3L533.3 144.4L536.9 142.3L542.6 138.2L545.8 135.1L547.7 132.4L552.1 131.4L555.6 128.1L559.5 124.2L564.0 121.3L567.8 118.8L571.7 115.7L574.1 113.3L577.3 109.0L581.1 104.2L584.4 102.0L588.0 101.6L592.9 99.8L600.5 95.1L606.1 92.0L606.6 90.7L607.4 97.8L605.1 103.2L601.0 106.3L597.9 109.3L595.8 110.9L594.2 113.0L591.4 116.3L587.8 118.1L583.8 120.7L579.8 124.4L577.4 127.7L574.3 130.1L571.2 133.8L568.3 137.4L564.6 140.2L559.8 143.9L556.6 148.7L553.6 150.3L550.4 154.2L548.5 156.7L545.1 157.8L542.0 159.0L537.0 160.5L535.0 164.5L531.3 167.3L527.2 171.4L526.7 174.6L521.8 176.4L519.5 178.4L517.3 181.0L515.2 183.9L512.6 185.1L508.6 186.7L503.9 189.9L500.0 192.5L500.0 195.7Z" fill="#1414ff"/>
<g fill="#0000ff" fill-opacity="0.5" stroke="#0000ff" stroke-opacity="0.5" stroke-width="0.7"><circle cx="501.3" cy="177.6" r="1.95"/><circle cx="503.2" cy="176.7" r="1.95"/><circle cx="503.8" cy="175.6" r="1.95"/><circle cx="505.4" cy="174.8" r="1.95"/><circle cx="507.8" cy="173.0" r="1.95"/><circle cx="508.0" cy="172.4" r="1.95"/><circle cx="508.6" cy="169.9" r="1.95"/><circle cx="510.4" cy="168.0" r="1.95"/><circle cx="511.0" cy="167.3" r="1.95"/><circle cx="513.1" cy="164.8" r="1.95"/><circle cx="515.0" cy="165.0" r="1.95"/><circle cx="516.9" cy="163.3" r="1.95"/><circle cx="518.7" cy="161.6" r="1.95"/><circle cx="518.9" cy="160.5" r="1.95"/><circle cx="520.1" cy="160.0" r="1.95"/><circle cx="521.5" cy="158.1" r="1.95"/><circle cx="522.8" cy="156.3" r="1.95"/><circle cx="524.6" cy="154.8" r="1.95"/><circle cx="525.7" cy="154.0" r="1.95"/><circle cx="527.7" cy="152.9" r="1.95"/><circle cx="528.6" cy="151.1" r="1.95"/><circle cx="530.5" cy="150.2" r="1.95"/><circle cx="531.1" cy="148.6" r="1.95"/><circle cx="532.8" cy="147.6" r="1.95"/><circle cx="534.8" cy="145.0" r="1.95"/><circle cx="536.1" cy="142.4" r="1.95"/><circle cx="539.0" cy="142.5" r="1.95"/><circle cx="539.6" cy="141.5" r="1.95"/><circle cx="541.4" cy="139.5" r="1.95"/><circle cx="543.2" cy="139.6" r="1.95"/><circle cx="544.2" cy="138.1" r="1.95"/><circle cx="545.3" cy="136.5" r="1.95"/><circle cx="547.6" cy="133.9" r="1.95"/><circle cx="549.9" cy="132.7" r="1.95"/><circle cx="550.8" cy="132.3" r="1.95"/><circle cx="552.9" cy="130.3" r="1.95"/><circle cx="554.2" cy="131.1" r="1.95"/><circle cx="555.4" cy="130.1" r="1.95"/><circle cx="556.9" cy="127.2" r="1.95"/><circle cx="558.0" cy="125.9" r="1.95"/><circle cx="559.2" cy="125.7" r="1.95"/><circle cx="560.4" cy="124.3" r="1.95"/><circle cx="561.5" cy="123.6" r="1.95"/><circle cx="563.4" cy="122.3" r="1.95"/><circle cx="565.7" cy="120.0" r="1.95"/><circle cx="567.4" cy="120.6" r="1.95"/><circle cx="569.8" cy="118.7" r="1.95"/><circle cx="571.1" cy="117.8" r="1.95"/><circle cx="571.6" cy="117.0" r="1.95"/><circle cx="572.4" cy="115.8" r="1.95"/><circle cx="573.7" cy="113.9" r="1.95"/><circle cx="574.5" cy="112.4" r="1.95"/><circle cx="576.3" cy="111.2" r="1.95"/><circle cx="576.9" cy="109.1" r="1.95"/><circle cx="577.4" cy="108.5" r="1.95"/><circle cx="580.0" cy="106.2" r="1.95"/><circle cx="581.0" cy="105.4" r="1.95"/><circle cx="582.6" cy="103.7" r="1.95"/><circle cx="583.5" cy="102.4" r="1.95"/><circle cx="586.1" cy="101.5" r="1.95"/><circle cx="587.1" cy="101.9" r="1.95"/><circle cx="588.0" cy="101.2" r="1.95"/><circle cx="590.8" cy="101.5" r="1.95"/><circle cx="592.7" cy="100.7" r="1.95"/><circle cx="594.1" cy="99.8" r="1.95"/><circle cx="595.9" cy="98.8" r="1.95"/><circle cx="595.9" cy="97.8" r="1.95"/><circle cx="599.2" cy="96.8" r="1.95"/><circle cx="600.1" cy="95.6" r="1.95"/><circle cx="601.8" cy="94.5" r="1.95"/><circle cx="603.1" cy="94.8" r="1.95"/><circle cx="605.3" cy="92.4" r="1.95"/><circle cx="606.7" cy="91.3" r="1.95"/><circle cx="606.9" cy="98.3" r="1.95"/><circle cx="605.6" cy="100.9" r="1.95"/><circle cx="604.5" cy="101.6" r="1.95"/><circle cx="604.3" cy="102.6" r="1.95"/><circle cx="602.0" cy="104.1" r="1.95"/><circle cx="601.8" cy="105.9" r="1.95"/><circle cx="599.8" cy="107.6" r="1.95"/><circle cx="598.5" cy="108.6" r="1.95"/><circle cx="596.3" cy="109.5" r="1.95"/><circle cx="594.2" cy="112.2" r="1.95"/><circle cx="593.4" cy="113.3" r="1.95"/><circle cx="590.5" cy="115.2" r="1.95"/><circle cx="590.4" cy="116.3" r="1.95"/><circle cx="587.6" cy="117.4" r="1.95"/><circle cx="586.9" cy="117.3" r="1.95"/><circle cx="585.3" cy="118.7" r="1.95"/><circle cx="584.5" cy="119.1" r="1.95"/><circle cx="582.0" cy="121.4" r="1.95"/><circle cx="581.2" cy="121.7" r="1.95"/><circle cx="580.3" cy="123.3" r="1.95"/><circle cx="579.3" cy="124.4" r="1.95"/><circle cx="577.0" cy="126.9" r="1.95"/><circle cx="576.5" cy="127.3" r="1.95"/><circle cx="574.0" cy="129.7" r="1.95"/><circle cx="573.5" cy="131.1" r="1.95"/><circle cx="572.5" cy="131.8" r="1.95"/><circle cx="571.1" cy="132.5" r="1.95"/><circle cx="569.9" cy="134.1" r="1.95"/><circle cx="569.2" cy="136.7" r="1.95"/><circle cx="566.9" cy="138.6" r="1.95"/><circle cx="565.4" cy="138.5" r="1.95"/><circle cx="562.6" cy="140.8" r="1.95"/><circle cx="561.2" cy="141.0" r="1.95"/><circle cx="559.9" cy="143.8" r="1.95"/><circle cx="558.0" cy="144.4" r="1.95"/><circle cx="558.0" cy="145.2" r="1.95"/><circle cx="555.6" cy="147.6" r="1.95"/><circle cx="556.2" cy="148.7" r="1.95"/><circle cx="553.6" cy="149.7" r="1.95"/><circle cx="552.2" cy="150.1" r="1.95"/><circle cx="551.4" cy="151.0" r="1.95"/><circle cx="551.2" cy="153.2" r="1.95"/><circle cx="549.0" cy="155.3" r="1.95"/><circle cx="546.4" cy="156.4" r="1.95"/><circle cx="545.9" cy="157.5" r="1.95"/><circle cx="543.8" cy="157.2" r="1.95"/><circle cx="543.0" cy="157.7" r="1.95"/><circle cx="541.1" cy="157.9" r="1.95"/><circle cx="539.4" cy="158.7" r="1.95"/><circle cx="536.7" cy="159.4" r="1.95"/><circle cx="536.5" cy="161.3" r="1.95"/><circle cx="534.8" cy="162.4" r="1.95"/><circle cx="533.3" cy="164.8" r="1.95"/><circle cx="531.4" cy="165.6" r="1.95"/><circle cx="529.2" cy="167.9" r="1.95"/><circle cx="529.1" cy="170.0" r="1.95"/><circle cx="528.3" cy="170.8" r="1.95"/><circle cx="526.6" cy="172.2" r="1.95"/><circle cx="525.5" cy="174.2" r="1.95"/><circle cx="524.1" cy="174.3" r="1.95"/><circle cx="521.7" cy="175.4" r="1.95"/><circle cx="520.4" cy="176.5" r="1.95"/><circle cx="517.9" cy="178.4" r="1.95"/><circle cx="516.5" cy="180.0" r="1.95"/><circle cx="516.7" cy="181.9" r="1.95"/><circle cx="515.2" cy="182.2" r="1.95"/><circle cx="512.9" cy="184.6" r="1.95"/><circle cx="511.8" cy="184.2" r="1.95"/><circle cx="508.7" cy="186.7" r="1.95"/><circle cx="507.8" cy="187.2" r="1.95"/><circle cx="505.6" cy="186.9" r="1.95"/><circle cx="504.4" cy="188.2" r="1.95"/><circle cx="501.7" cy="189.9" r="1.95"/><circle cx="501.3" cy="192.0" r="1.95"/><circle cx="500.0" cy="192.5" r="1.95"/><circle cx="501.2" cy="194.9" r="1.95"/><circle cx="502.4" cy="174.5" r="1.95"/><circle cx="504.0" cy="175.0" r="1.95"/><circle cx="506.7" cy="170.7" r="1.95"/><circle cx="504.3" cy="171.9" r="1.95"/><circle cx="508.3" cy="170.2" r="1.95"/><circle cx="508.0" cy="171.3" r="1.95"/><circle cx="511.2" cy="163.1" r="1.95"/><circle cx="511.5" cy="164.8" r="1.95"/><circle cx="514.2" cy="160.5" r="1.95"/><circle cx="513.5" cy="163.2" r="1.95"/><circle cx="519.6" cy="155.4" r="1.95"/><circle cx="522.4" cy="154.7" r="1.95"/><circle cx="527.0" cy="151.6" r="1.95"/><circle cx="527.7" cy="153.3" r="1.95"/><circle cx="529.2" cy="147.9" r="1.95"/><circle cx="532.3" cy="144.7" r="1.95"/><circle cx="533.2" cy="144.9" r="1.95"/><circle cx="530.7" cy="143.1" r="1.95"/><circle cx="532.7" cy="144.7" r="1.95"/><circle cx="540.2" cy="139.2" r="1.95"/><circle cx="544.7" cy="135.6" r="1.95"/><circle cx="544.6" cy="135.7" r="1.95"/><circle cx="545.8" cy="133.1" r="1.95"/><circle cx="547.3" cy="131.8" r="1.95"/><circle cx="548.6" cy="130.6" r="1.95"/><circle cx="554.9" cy="128.1" r="1.95"/><circle cx="554.4" cy="128.8" r="1.95"/><circle cx="556.2" cy="128.0" r="1.95"/><circle cx="560.8" cy="123.3" r="1.95"/><circle cx="560.6" cy="123.7" r="1.95"/><circle cx="563.6" cy="122.9" r="1.95"/><circle cx="569.9" cy="114.4" r="1.95"/><circle cx="570.5" cy="113.7" r="1.95"/><circle cx="573.5" cy="114.7" r="1.95"/><circle cx="574.6" cy="109.6" r="1.95"/><circle cx="579.7" cy="106.0" r="1.95"/><circle cx="583.5" cy="101.8" r="1.95"/><circle cx="587.9" cy="98.8" r="1.95"/><circle cx="590.7" cy="97.8" r="1.95"/><circle cx="592.6" cy="99.9" r="1.95"/><circle cx="600.7" cy="94.4" r="1.95"/><circle cx="599.3" cy="93.1" r="1.95"/><circle cx="599.5" cy="93.6" r="1.95"/><circle cx="605.3" cy="91.2" r="1.95"/><circle cx="607.8" cy="96.8" r="1.95"/><circle cx="604.6" cy="104.8" r="1.95"/><circle cx="601.6" cy="108.3" r="1.95"/><circle cx="602.7" cy="108.2" r="1.95"/><circle cx="595.5" cy="109.7" r="1.95"/><circle cx="595.7" cy="110.8" r="1.95"/><circle cx="594.0" cy="112.8" r="1.95"/><circle cx="594.7" cy="116.3" r="1.95"/><circle cx="594.8" cy="114.7" r="1.95"/><circle cx="588.2" cy="117.9" r="1.95"/><circle cx="589.0" cy="117.3" r="1.95"/><circle cx="585.9" cy="122.5" r="1.95"/><circle cx="584.8" cy="121.2" r="1.95"/><circle cx="581.3" cy="125.5" r="1.95"/><circle cx="580.7" cy="125.1" r="1.95"/><circle cx="577.3" cy="127.5" r="1.95"/><circle cx="575.7" cy="131.5" r="1.95"/><circle cx="571.7" cy="133.5" r="1.95"/><circle cx="568.7" cy="137.5" r="1.95"/><circle cx="565.8" cy="141.2" r="1.95"/><circle cx="563.9" cy="141.7" r="1.95"/><circle cx="563.1" cy="142.3" r="1.95"/><circle cx="564.0" cy="141.1" r="1.95"/><circle cx="560.5" cy="147.1" r="1.95"/><circle cx="560.8" cy="145.7" r="1.95"/><circle cx="554.2" cy="151.1" r="1.95"/><circle cx="552.5" cy="153.9" r="1.95"/><circle cx="551.8" cy="154.1" r="1.95"/><circle cx="550.7" cy="155.1" r="1.95"/><circle cx="549.2" cy="156.0" r="1.95"/><circle cx="546.4" cy="157.4" r="1.95"/><circle cx="545.3" cy="157.7" r="1.95"/><circle cx="543.6" cy="157.3" r="1.95"/><circle cx="544.1" cy="158.7" r="1.95"/><circle cx="541.7" cy="159.8" r="1.95"/><circle cx="536.4" cy="164.8" r="1.95"/><circle cx="535.4" cy="165.6" r="1.95"/><circle cx="531.5" cy="169.2" r="1.95"/><circle cx="534.4" cy="166.8" r="1.95"/><circle cx="528.9" cy="170.9" r="1.95"/><circle cx="529.8" cy="170.5" r="1.95"/><circle cx="527.6" cy="175.3" r="1.95"/><circle cx="522.3" cy="176.1" r="1.95"/><circle cx="523.8" cy="177.7" r="1.95"/><circle cx="522.9" cy="178.2" r="1.95"/><circle cx="518.3" cy="180.1" r="1.95"/><circle cx="516.0" cy="181.6" r="1.95"/><circle cx="516.9" cy="182.7" r="1.95"/><circle cx="511.6" cy="186.6" r="1.95"/><circle cx="512.8" cy="184.6" r="1.95"/><circle cx="511.8" cy="186.2" r="1.95"/><circle cx="506.2" cy="188.4" r="1.95"/><circle cx="504.8" cy="189.1" r="1.95"/><circle cx="502.0" cy="191.9" r="1.95"/><circle cx="497.9" cy="194.2" r="1.95"/><circle cx="498.7" cy="196.4" r="1.95"/><circle cx="482.8" cy="196.1" r="1.95"/><circle cx="493.3" cy="188.5" r="1.95"/><circle cx="492.9" cy="186.9" r="1.95"/><circle cx="480.9" cy="201.3" r="1.95"/><circle cx="483.9" cy="194.6" r="1.95"/><circle cx="479.0" cy="205.4" r="1.95"/><circle cx="491.7" cy="193.5" r="1.95"/><circle cx="499.8" cy="192.4" r="1.95"/><circle cx="494.2" cy="195.7" r="1.95"/><circle cx="490.1" cy="191.8" r="1.95"/><circle cx="482.0" cy="199.2" r="1.95"/><circle cx="492.3" cy="189.3" r="1.95"/><circle cx="500.7" cy="181.5" r="1.95"/><circle cx="500.0" cy="187.3" r="1.95"/><circle cx="486.5" cy="193.1" r="1.95"/><circle cx="480.8" cy="198.5" r="1.95"/><circle cx="478.9" cy="201.8" r="1.95"/><circle cx="498.9" cy="181.8" r="1.95"/><circle cx="478.6" cy="203.3" r="1.95"/><circle cx="486.0" cy="195.1" r="1.95"/><circle cx="478.9" cy="202.8" r="1.95"/><circle cx="487.3" cy="200.9" r="1.95"/><circle cx="501.0" cy="185.0" r="1.95"/><circle cx="500.2" cy="187.5" r="1.95"/><circle cx="482.0" cy="204.2" r="1.95"/><circle cx="487.5" cy="195.2" r="1.95"/><circle cx="613.5" cy="85.4" r="1.95"/><circle cx="608.6" cy="90.2" r="1.95"/><circle cx="603.5" cy="97.1" r="1.95"/><circle cx="618.1" cy="85.7" r="1.95"/><circle cx="606.6" cy="93.7" r="1.95"/><circle cx="607.1" cy="90.8" r="1.95"/><circle cx="617.3" cy="83.6" r="1.95"/><circle cx="608.7" cy="88.3" r="1.95"/><circle cx="618.0" cy="84.4" r="1.95"/><circle cx="619.9" cy="78.8" r="1.95"/><circle cx="603.8" cy="100.1" r="1.95"/><circle cx="606.9" cy="99.1" r="1.95"/><circle cx="611.1" cy="95.7" r="1.95"/><circle cx="615.5" cy="81.3" r="1.95"/><circle cx="618.7" cy="80.1" r="1.95"/><circle cx="605.6" cy="97.3" r="1.95"/><circle cx="617.4" cy="82.7" r="1.95"/><circle cx="598.7" cy="98.1" r="1.95"/><circle cx="615.5" cy="83.3" r="1.95"/><circle cx="612.7" cy="91.7" r="1.95"/><circle cx="619.1" cy="88.0" r="1.95"/><circle cx="603.2" cy="103.7" r="1.95"/><circle cx="606.7" cy="92.1" r="1.95"/><circle cx="605.5" cy="93.3" r="1.95"/><circle cx="620.0" cy="77.8" r="1.95"/><circle cx="616.8" cy="87.6" r="1.95"/><circle cx="610.4" cy="88.0" r="1.95"/><circle cx="605.0" cy="103.0" r="1.95"/><circle cx="616.0" cy="82.0" r="1.95"/><circle cx="607.7" cy="100.2" r="1.95"/><circle cx="419.1" cy="257.2" r="1.95"/><circle cx="437.0" cy="247.2" r="1.95"/><circle cx="442.8" cy="238.0" r="1.95"/><circle cx="443.8" cy="236.9" r="1.95"/><circle cx="447.0" cy="229.9" r="1.95"/><circle cx="448.5" cy="233.7" r="1.95"/><circle cx="450.0" cy="236.0" r="1.95"/><circle cx="455.7" cy="224.2" r="1.95"/><circle cx="459.9" cy="222.7" r="1.95"/><circle cx="463.7" cy="222.7" r="1.95"/><circle cx="455.4" cy="224.2" r="1.95"/><circle cx="460.5" cy="223.4" r="1.95"/><circle cx="465.5" cy="222.9" r="1.95"/><circle cx="467.5" cy="216.6" r="1.95"/><circle cx="467.0" cy="216.5" r="1.95"/><circle cx="472.1" cy="204.7" r="1.95"/><circle cx="474.4" cy="203.9" r="1.95"/><circle cx="478.4" cy="203.9" r="1.95"/><circle cx="483.9" cy="206.3" r="1.95"/><circle cx="482.3" cy="198.4" r="1.95"/><circle cx="483.1" cy="192.1" r="1.95"/><circle cx="487.1" cy="193.7" r="1.95"/><circle cx="488.6" cy="190.5" r="1.95"/><circle cx="490.2" cy="196.0" r="1.95"/><circle cx="491.8" cy="188.9" r="1.95"/><circle cx="492.6" cy="185.0" r="1.95"/><circle cx="497.3" cy="182.6" r="1.95"/><circle cx="498.9" cy="177.9" r="1.95"/><circle cx="483.0" cy="192.2" r="1.95"/><circle cx="485.6" cy="194.1" r="1.95"/><circle cx="484.3" cy="197.9" r="1.95"/><circle cx="490.6" cy="184.0" r="1.95"/><circle cx="491.9" cy="189.0" r="1.95"/><circle cx="503.2" cy="173.9" r="1.95"/><circle cx="660.2" cy="46.8" r="1.95"/><circle cx="652.0" cy="55.9" r="1.95"/><circle cx="641.2" cy="60.0" r="1.95"/><circle cx="638.4" cy="61.9" r="1.95"/><circle cx="643.1" cy="62.9" r="1.95"/><circle cx="644.1" cy="65.7" r="1.95"/><circle cx="631.4" cy="62.9" r="1.95"/><circle cx="628.9" cy="64.7" r="1.95"/><circle cx="636.5" cy="66.6" r="1.95"/><circle cx="633.7" cy="68.5" r="1.95"/><circle cx="625.1" cy="72.3" r="1.95"/><circle cx="628.0" cy="73.3" r="1.95"/><circle cx="629.9" cy="75.7" r="1.95"/><circle cx="623.3" cy="78.0" r="1.95"/><circle cx="616.6" cy="79.0" r="1.95"/><circle cx="617.6" cy="81.8" r="1.95"/><circle cx="611.9" cy="82.7" r="1.95"/><circle cx="620.4" cy="83.7" r="1.95"/><circle cx="548.4" cy="127.2" r="1.95"/><circle cx="576.4" cy="104.7" r="1.95"/><circle cx="629.7" cy="63.8" r="1.95"/><circle cx="631.5" cy="62.5" r="1.95"/><circle cx="637.9" cy="61.9" r="1.95"/><circle cx="635.3" cy="67.6" r="1.95"/><circle cx="632.8" cy="71.4" r="1.95"/><circle cx="624.6" cy="72.6" r="1.95"/><circle cx="626.5" cy="74.5" r="1.95"/><circle cx="629.0" cy="76.4" r="1.95"/><circle cx="615.8" cy="78.9" r="1.95"/><circle cx="618.3" cy="80.2" r="1.95"/><circle cx="620.2" cy="84.0" r="1.95"/><circle cx="610.7" cy="83.3" r="1.95"/><circle cx="613.9" cy="84.6" r="1.95"/><circle cx="607.6" cy="86.5" r="1.95"/><circle cx="605.0" cy="90.3" r="1.95"/><circle cx="608.8" cy="90.3" r="1.95"/><circle cx="611.4" cy="92.8" r="1.95"/><circle cx="602.5" cy="92.8" r="1.95"/><circle cx="606.3" cy="96.6" r="1.95"/><circle cx="610.1" cy="96.6" r="1.95"/><circle cx="575.1" cy="104.2" r="1.95"/><circle cx="600.3" cy="92.3" r="1.95"/></g>
<path d="M499.8 181.4L504.2 177.1L508.0 173.1L511.0 170.1L513.3 167.8L517.7 165.0L521.7 160.5L524.9 157.3L528.8 152.5L532.0 148.4L533.4 146.1L537.0 143.3L542.6 139.2L545.8 135.6L547.7 133.0L552.1 132.2L555.6 128.9L559.5 124.7L564.0 121.9L567.8 119.5L571.8 116.4L574.0 114.1L577.3 111.5L581.2 104.6L584.3 102.8L587.5 102.9L592.2 103.6L593.9 103.0L595.4 104.9L596.1 106.1L595.4 108.2L594.1 110.9L591.4 113.6L587.7 115.9L583.7 119.0L579.7 123.0L577.3 127.0L574.3 129.2L571.1 133.1L568.3 136.8L564.7 139.6L559.8 142.9L556.5 148.0L553.7 149.4L550.4 153.3L548.5 155.0L544.9 157.2L542.0 158.2L537.0 159.8L535.0 163.8L531.3 166.6L527.3 170.7L526.8 173.8L521.8 175.4L517.4 178.0L512.6 179.4L509.6 180.0L505.3 181.6L502.2 183.6L500.3 184.9L499.6 183.6Z" fill="#eca132"/>
<g fill="#eca028" fill-opacity="0.85" stroke="#eca028" stroke-opacity="0.85" stroke-width="0.7"><circle cx="500.4" cy="181.6" r="1.95"/><circle cx="503.1" cy="179.6" r="1.95"/><circle cx="503.3" cy="177.8" r="1.95"/><circle cx="505.0" cy="176.3" r="1.95"/><circle cx="507.2" cy="175.6" r="1.95"/><circle cx="507.3" cy="174.5" r="1.95"/><circle cx="509.5" cy="173.6" r="1.95"/><circle cx="509.7" cy="171.6" r="1.95"/><circle cx="512.6" cy="168.4" r="1.95"/><circle cx="513.6" cy="168.1" r="1.95"/><circle cx="515.0" cy="166.6" r="1.95"/><circle cx="518.0" cy="166.5" r="1.95"/><circle cx="519.6" cy="164.4" r="1.95"/><circle cx="521.0" cy="162.7" r="1.95"/><circle cx="521.8" cy="161.2" r="1.95"/><circle cx="523.1" cy="160.4" r="1.95"/><circle cx="524.8" cy="157.2" r="1.95"/><circle cx="527.2" cy="156.6" r="1.95"/><circle cx="527.5" cy="155.1" r="1.95"/><circle cx="528.2" cy="153.9" r="1.95"/><circle cx="530.0" cy="151.3" r="1.95"/><circle cx="531.3" cy="150.8" r="1.95"/><circle cx="532.8" cy="149.9" r="1.95"/><circle cx="532.6" cy="148.1" r="1.95"/><circle cx="535.3" cy="146.2" r="1.95"/><circle cx="535.6" cy="144.0" r="1.95"/><circle cx="538.0" cy="144.0" r="1.95"/><circle cx="539.6" cy="142.4" r="1.95"/><circle cx="541.4" cy="141.8" r="1.95"/><circle cx="542.7" cy="140.1" r="1.95"/><circle cx="543.2" cy="139.5" r="1.95"/><circle cx="545.9" cy="137.0" r="1.95"/><circle cx="546.1" cy="135.0" r="1.95"/><circle cx="549.4" cy="133.6" r="1.95"/><circle cx="551.9" cy="133.0" r="1.95"/><circle cx="553.7" cy="132.4" r="1.95"/><circle cx="555.0" cy="130.7" r="1.95"/><circle cx="557.5" cy="128.5" r="1.95"/><circle cx="558.4" cy="127.5" r="1.95"/><circle cx="560.1" cy="126.0" r="1.95"/><circle cx="560.9" cy="125.1" r="1.95"/><circle cx="562.0" cy="123.0" r="1.95"/><circle cx="564.1" cy="122.1" r="1.95"/><circle cx="564.1" cy="122.0" r="1.95"/><circle cx="567.3" cy="119.8" r="1.95"/><circle cx="570.0" cy="119.3" r="1.95"/><circle cx="572.3" cy="117.3" r="1.95"/><circle cx="574.4" cy="115.4" r="1.95"/><circle cx="574.7" cy="114.7" r="1.95"/><circle cx="576.4" cy="113.3" r="1.95"/><circle cx="577.3" cy="111.2" r="1.95"/><circle cx="578.9" cy="108.5" r="1.95"/><circle cx="580.7" cy="107.7" r="1.95"/><circle cx="581.4" cy="107.0" r="1.95"/><circle cx="582.6" cy="104.9" r="1.95"/><circle cx="585.3" cy="102.8" r="1.95"/><circle cx="589.1" cy="103.6" r="1.95"/><circle cx="590.7" cy="104.5" r="1.95"/><circle cx="593.2" cy="104.2" r="1.95"/><circle cx="595.3" cy="104.5" r="1.95"/><circle cx="594.4" cy="106.9" r="1.95"/><circle cx="593.7" cy="109.6" r="1.95"/><circle cx="591.9" cy="111.2" r="1.95"/><circle cx="591.7" cy="113.1" r="1.95"/><circle cx="591.3" cy="113.7" r="1.95"/><circle cx="589.0" cy="115.0" r="1.95"/><circle cx="586.3" cy="116.3" r="1.95"/><circle cx="585.7" cy="117.7" r="1.95"/><circle cx="584.5" cy="117.7" r="1.95"/><circle cx="582.2" cy="118.5" r="1.95"/><circle cx="581.6" cy="119.9" r="1.95"/><circle cx="579.9" cy="122.9" r="1.95"/><circle cx="579.2" cy="123.5" r="1.95"/><circle cx="577.9" cy="126.1" r="1.95"/><circle cx="575.5" cy="127.2" r="1.95"/><circle cx="574.2" cy="128.9" r="1.95"/><circle cx="573.1" cy="128.4" r="1.95"/><circle cx="573.2" cy="130.5" r="1.95"/><circle cx="570.6" cy="131.6" r="1.95"/><circle cx="570.0" cy="134.1" r="1.95"/><circle cx="568.2" cy="136.3" r="1.95"/><circle cx="566.1" cy="137.8" r="1.95"/><circle cx="565.6" cy="138.8" r="1.95"/><circle cx="563.6" cy="139.0" r="1.95"/><circle cx="561.8" cy="141.5" r="1.95"/><circle cx="559.6" cy="141.7" r="1.95"/><circle cx="558.2" cy="143.0" r="1.95"/><circle cx="558.1" cy="146.1" r="1.95"/><circle cx="557.0" cy="145.8" r="1.95"/><circle cx="553.9" cy="149.3" r="1.95"/><circle cx="552.5" cy="149.1" r="1.95"/><circle cx="551.4" cy="150.9" r="1.95"/><circle cx="551.1" cy="151.6" r="1.95"/><circle cx="549.2" cy="153.3" r="1.95"/><circle cx="547.9" cy="154.8" r="1.95"/><circle cx="546.4" cy="156.6" r="1.95"/><circle cx="543.0" cy="157.7" r="1.95"/><circle cx="540.3" cy="157.5" r="1.95"/><circle cx="538.8" cy="159.2" r="1.95"/><circle cx="537.5" cy="159.7" r="1.95"/><circle cx="535.8" cy="159.9" r="1.95"/><circle cx="535.7" cy="162.2" r="1.95"/><circle cx="533.4" cy="164.3" r="1.95"/><circle cx="530.8" cy="165.4" r="1.95"/><circle cx="531.0" cy="166.3" r="1.95"/><circle cx="529.0" cy="169.0" r="1.95"/><circle cx="527.7" cy="169.9" r="1.95"/><circle cx="526.0" cy="171.4" r="1.95"/><circle cx="524.6" cy="174.7" r="1.95"/><circle cx="523.7" cy="174.4" r="1.95"/><circle cx="520.8" cy="175.8" r="1.95"/><circle cx="519.3" cy="175.9" r="1.95"/><circle cx="517.8" cy="176.6" r="1.95"/><circle cx="515.6" cy="177.2" r="1.95"/><circle cx="513.7" cy="178.6" r="1.95"/><circle cx="509.8" cy="179.4" r="1.95"/><circle cx="508.7" cy="179.8" r="1.95"/><circle cx="507.0" cy="179.9" r="1.95"/><circle cx="504.3" cy="181.8" r="1.95"/><circle cx="503.4" cy="182.7" r="1.95"/><circle cx="502.0" cy="184.1" r="1.95"/><circle cx="500.4" cy="183.4" r="1.95"/><circle cx="500.0" cy="183.4" r="1.95"/><circle cx="439.0" cy="243.8" r="1.95"/><circle cx="458.0" cy="225.6" r="1.95"/><circle cx="476.9" cy="209.8" r="1.95"/><circle cx="477.6" cy="209.6" r="1.95"/><circle cx="493.7" cy="197.9" r="1.95"/><circle cx="492.7" cy="194.1" r="1.95"/><circle cx="500.3" cy="192.2" r="1.95"/><circle cx="495.6" cy="182.7" r="1.95"/><circle cx="502.2" cy="186.5" r="1.95"/><circle cx="514.5" cy="182.7" r="1.95"/><circle cx="512.6" cy="162.8" r="1.95"/><circle cx="495.0" cy="189.7" r="1.95"/><circle cx="494.4" cy="197.9" r="1.95"/><circle cx="658.8" cy="58.7" r="1.95"/><circle cx="646.9" cy="70.8" r="1.95"/><circle cx="620.2" cy="76.2" r="1.95"/><circle cx="628.8" cy="80.2" r="1.95"/><circle cx="615.1" cy="90.0" r="1.95"/><circle cx="616.4" cy="94.7" r="1.95"/><circle cx="600.6" cy="87.8" r="1.95"/><circle cx="602.5" cy="97.2" r="1.95"/><circle cx="599.7" cy="88.0" r="1.95"/><circle cx="595.0" cy="92.7" r="1.95"/><circle cx="602.6" cy="96.5" r="1.95"/><circle cx="614.9" cy="89.9" r="1.95"/><circle cx="584.6" cy="103.1" r="1.95"/><circle cx="580.8" cy="106.0" r="1.95"/><circle cx="594.0" cy="109.7" r="1.95"/></g>
</g>
<path d="M67.88 262.49L324.98 35.34" stroke="#000" stroke-width="1.69" stroke-dasharray="6.26 2.71" fill="none"/>
<path d="M414.18 262.55L670.80 35.33" stroke="#000" stroke-width="1.69" stroke-dasharray="6.26 2.71" fill="none"/>
<defs><clipPath id="clipA"><rect x="55.0" y="24.5" width="282.9" height="249.5"/></clipPath><clipPath id="clipB"><rect x="401.4" y="24.5" width="282.0" height="249.5"/></clipPath></defs>
<path d="M67.88 274.00V278.00M119.30 274.00V278.00M170.72 274.00V278.00M222.14 274.00V278.00M273.56 274.00V278.00M324.98 274.00V278.00M55.00 262.49H51.00M55.00 217.06H51.00M55.00 171.63H51.00M55.00 126.20H51.00M55.00 80.77H51.00M55.00 35.34H51.00" stroke="#000" stroke-width="0.95" fill="none"/>
<rect x="55.00" y="24.50" width="282.90" height="249.50" fill="none" stroke="#000" stroke-width="1.0"/>
<path d="M426.40 274.00V278.00M487.50 274.00V278.00M548.60 274.00V278.00M609.70 274.00V278.00M670.80 274.00V278.00M401.40 251.73H397.40M401.40 197.63H397.40M401.40 143.53H397.40M401.40 89.43H397.40M401.40 35.33H397.40" stroke="#000" stroke-width="0.95" fill="none"/>
<rect x="401.40" y="24.50" width="282.00" height="249.50" fill="none" stroke="#000" stroke-width="1.0"/>
<rect x="60.90" y="29.90" width="218.50" height="36.30" rx="2.2" fill="#fff" fill-opacity="0.8" stroke="#d6d6d6" stroke-width="1"/>
<circle cx="76.33" cy="38.80" r="1.95" fill="#0000ff" fill-opacity="0.5" stroke="#0000ff" stroke-opacity="0.5" stroke-width="0.7"/>
<circle cx="76.33" cy="55.50" r="1.95" fill="#eca028" fill-opacity="0.85" stroke="#eca028" stroke-opacity="0.85" stroke-width="0.7"/>
<rect x="406.90" y="29.90" width="196.00" height="43.80" rx="2.2" fill="#fff" fill-opacity="0.8" stroke="#d6d6d6" stroke-width="1"/>
<circle cx="422.50" cy="41.70" r="1.95" fill="#0000ff" fill-opacity="0.5" stroke="#0000ff" stroke-opacity="0.5" stroke-width="0.7"/>
<circle cx="422.50" cy="61.80" r="1.95" fill="#eca028" fill-opacity="0.85" stroke="#eca028" stroke-opacity="0.85" stroke-width="0.7"/>
<text transform="translate(56.530,290.700) scale(1.1500,1)" font-family="Liberation Sans" font-size="11.927" fill="#000">−12</text>
<text transform="translate(108.381,290.700) scale(1.1500,1)" font-family="Liberation Sans" font-size="11.927" fill="#000">−11</text>
<text transform="translate(159.226,290.700) scale(1.1500,1)" font-family="Liberation Sans" font-size="11.927" fill="#000">−10</text>
<text transform="translate(214.528,290.700) scale(1.1500,1)" font-family="Liberation Sans" font-size="11.927" fill="#000">−9</text>
<text transform="translate(265.947,290.700) scale(1.1500,1)" font-family="Liberation Sans" font-size="11.927" fill="#000">−8</text>
<text transform="translate(317.368,290.700) scale(1.1500,1)" font-family="Liberation Sans" font-size="11.927" fill="#000">−7</text>
<text transform="translate(23.775,267.040) scale(1.1500,1)" font-family="Liberation Sans" font-size="11.927" fill="#000">−12</text>
<text transform="translate(24.638,221.610) scale(1.1500,1)" font-family="Liberation Sans" font-size="11.927" fill="#000">−11</text>
<text transform="translate(23.488,176.180) scale(1.1500,1)" font-family="Liberation Sans" font-size="11.927" fill="#000">−10</text>
<text transform="translate(31.250,130.750) scale(1.1500,1)" font-family="Liberation Sans" font-size="11.927" fill="#000">−9</text>
<text transform="translate(31.250,85.320) scale(1.1500,1)" font-family="Liberation Sans" font-size="11.927" fill="#000">−8</text>
<text transform="translate(31.250,39.890) scale(1.1500,1)" font-family="Liberation Sans" font-size="11.927" fill="#000">−7</text>
<text transform="translate(414.906,290.700) scale(1.1500,1)" font-family="Liberation Sans" font-size="11.927" fill="#000">−10</text>
<text transform="translate(479.887,290.700) scale(1.1500,1)" font-family="Liberation Sans" font-size="11.927" fill="#000">−5</text>
<text transform="translate(544.869,290.700) scale(1.1500,1)" font-family="Liberation Sans" font-size="11.927" fill="#000">0</text>
<text transform="translate(605.969,290.700) scale(1.1500,1)" font-family="Liberation Sans" font-size="11.927" fill="#000">5</text>
<text transform="translate(663.044,290.700) scale(1.1500,1)" font-family="Liberation Sans" font-size="11.927" fill="#000">10</text>
<text transform="translate(369.887,256.280) scale(1.1500,1)" font-family="Liberation Sans" font-size="11.927" fill="#000">−10</text>
<text transform="translate(377.650,202.180) scale(1.1500,1)" font-family="Liberation Sans" font-size="11.927" fill="#000">−5</text>
<text transform="translate(385.412,148.080) scale(1.1500,1)" font-family="Liberation Sans" font-size="11.927" fill="#000">0</text>
<text transform="translate(385.412,93.980) scale(1.1500,1)" font-family="Liberation Sans" font-size="11.927" fill="#000">5</text>
<text transform="translate(377.938,39.880) scale(1.1500,1)" font-family="Liberation Sans" font-size="11.927" fill="#000">10</text>
<text transform="translate(53.900,16.550) scale(1.0400,1)" font-family="Liberation Sans" font-size="21.900" letter-spacing="1.365" fill="#000">(a)</text>
<text transform="translate(399.900,16.550) scale(1.0400,1)" font-family="Liberation Sans" font-size="21.900" letter-spacing="1.462" fill="#000">(b)</text>
<text transform="translate(130.176,310.900) scale(0.8480,1)" font-family="Liberation Sans" font-size="19.400" fill="#000"><tspan font-style="italic">E</tspan></text>
<text transform="translate(141.480,313.500) scale(1.0400,1)" font-family="Liberation Sans" font-size="12.400" letter-spacing="-0.394" fill="#000"><tspan font-style="italic">DFT</tspan></text>
<text transform="translate(172.600,310.700) scale(1.0400,1)" font-family="Liberation Sans" font-size="19.400" letter-spacing="0.137" fill="#000">(eV/atom)</text>
<text transform="translate(493.688,313.100) scale(0.8245,1)" font-family="Liberation Sans" font-size="19.400" fill="#000"><tspan font-style="italic">F</tspan></text>
<text transform="translate(503.680,315.700) scale(1.0400,1)" font-family="Liberation Sans" font-size="12.400" letter-spacing="-0.202" fill="#000"><tspan font-style="italic">DFT</tspan></text>
<text transform="translate(535.600,313.300) scale(1.0400,1)" font-family="Liberation Sans" font-size="19.400" letter-spacing="-0.346" fill="#000">(eV/<tspan font-style="italic">Å</tspan>)</text>
<text transform="translate(14.200,0) rotate(-90) translate(-214.924,0) scale(0.8480,1)" font-family="Liberation Sans" font-size="19.400" fill="#000"><tspan font-style="italic">E</tspan></text>
<text transform="translate(16.800,0) rotate(-90) translate(-204.880,0) scale(1.0400,1)" font-family="Liberation Sans" font-size="12.400" letter-spacing="-0.260" fill="#000"><tspan font-style="italic">ACE</tspan></text>
<text transform="translate(14.000,0) rotate(-90) translate(-172.500,0) scale(1.0400,1)" font-family="Liberation Sans" font-size="19.400" letter-spacing="0.113" fill="#000">(eV/atom)</text>
<text transform="translate(360.700,0) rotate(-90) translate(-197.716,0) scale(0.8327,1)" font-family="Liberation Sans" font-size="19.400" fill="#000"><tspan font-style="italic">F</tspan></text>
<text transform="translate(363.300,0) rotate(-90) translate(-187.880,0) scale(1.0400,1)" font-family="Liberation Sans" font-size="12.400" letter-spacing="-0.596" fill="#000"><tspan font-style="italic">ACE</tspan></text>
<text transform="translate(360.700,0) rotate(-90) translate(-155.300,0) scale(1.0400,1)" font-family="Liberation Sans" font-size="19.400" letter-spacing="-0.500" fill="#000">(eV/<tspan font-style="italic">Å</tspan>)</text>
<text transform="translate(97.240,42.900) scale(1.0400,1)" font-family="Liberation Sans" font-size="11.433" letter-spacing="0.382" fill="#000">Training MAE= 6.24(meV/atom)</text>
<text transform="translate(97.240,59.200) scale(1.0400,1)" font-family="Liberation Sans" font-size="11.433" letter-spacing="0.381" fill="#000">Testing MAE= 6.55(meV/atom)</text>
<text transform="translate(443.240,44.800) scale(1.0400,1)" font-family="Liberation Sans" font-size="11.433" letter-spacing="0.375" fill="#000">Training MAE= 0.071(eV/<tspan font-style="italic">Å</tspan>)</text>
<text transform="translate(443.240,64.700) scale(1.0400,1)" font-family="Liberation Sans" font-size="11.433" letter-spacing="0.386" fill="#000">Testing MAE= 0.075(eV/<tspan font-style="italic">Å</tspan>)</text>
</svg>
</body></html>
